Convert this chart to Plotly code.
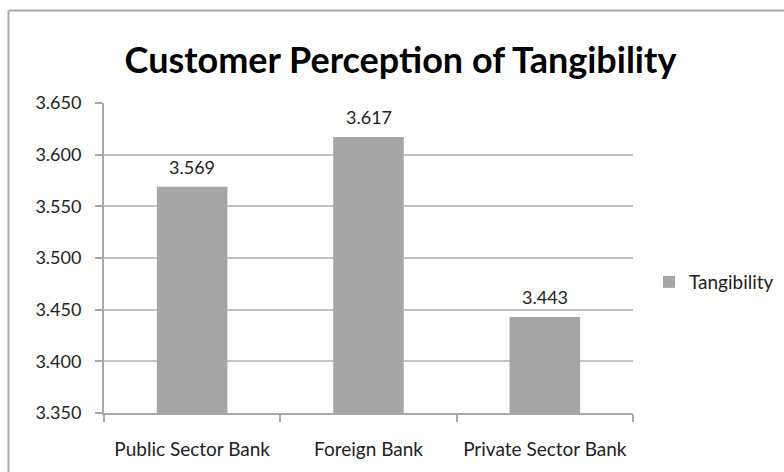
import plotly.graph_objects as go

categories = ["Public Sector Bank", "Foreign Bank", "Private Sector Bank"]
values = [3.569, 3.617, 3.443]
series_name = "Tangibility"
title_text = "Customer Perception of Tangibility"

FONT = "Lato, 'Open Sans', sans-serif"
BAR = "#a6a6a6"
GRID = "#c3c3c3"

fig = go.Figure()
fig.add_trace(go.Bar(
    x=categories, y=values, name=series_name,
    marker=dict(color=BAR, line=dict(width=0)),
    showlegend=True,
))

for c, v in zip(categories, values):
    fig.add_annotation(x=c, y=v, text=f"{v:.3f}", showarrow=False,
                       yanchor="bottom", yshift=7,
                       font=dict(family=FONT, size=18, color="#222"))

W, H = 784, 472
L, R, T, B = 104, 151, 103, 59
pw, ph = W - L - R, H - T - B

def px_x(p):
    return (p - L) / pw

def px_y(p):
    return (H - B - p) / ph

# outer chart border (top and left visible)
fig.add_shape(type="line", xref="paper", yref="paper",
              x0=px_x(8.5), x1=px_x(790), y0=px_y(10.5), y1=px_y(10.5),
              line=dict(color="#a8a8a8", width=2))
fig.add_shape(type="line", xref="paper", yref="paper",
              x0=px_x(8.5), x1=px_x(8.5), y0=px_y(10.5), y1=px_y(480),
              line=dict(color="#a8a8a8", width=2))

fig.update_layout(
    width=W, height=H,
    margin=dict(l=L, r=R, t=T, b=B, autoexpand=False),
    paper_bgcolor="white", plot_bgcolor="white",
    bargap=0.6,
    title=dict(text=f"<b>{title_text}</b>", x=400.5 / W, xanchor="center",
               y=1 - 60 / H, yanchor="middle", yref="container", xref="container",
               font=dict(family=FONT, size=36, color="#000")),
    font=dict(family=FONT, size=18, color="#222"),
    legend=dict(x=px_x(649), y=px_y(282), xanchor="left", yanchor="middle",
                font=dict(family=FONT, size=19, color="#222"),
                itemwidth=30, bgcolor="rgba(0,0,0,0)"),
    xaxis=dict(showline=True, linecolor="#a8a8a8", linewidth=2,
               ticks="outside", tickson="boundaries", ticklen=7,
               tickcolor="#a8a8a8", tickwidth=1.5, ticklabelstandoff=18,
               showgrid=False, tickfont=dict(family=FONT, size=19, color="#222")),
    yaxis=dict(range=[3.35, 3.65], dtick=0.05, tick0=3.35, tickformat=".3f",
               showline=True, linecolor="#a8a8a8", linewidth=2,
               ticks="outside", ticklen=7, tickcolor="#a8a8a8", tickwidth=1.5,
               ticklabelstandoff=10,
               showgrid=True, gridcolor=GRID, gridwidth=1.5, zeroline=False,
               tickfont=dict(family=FONT, size=18, color="#222")),
)

fig.write_html("out.html")
